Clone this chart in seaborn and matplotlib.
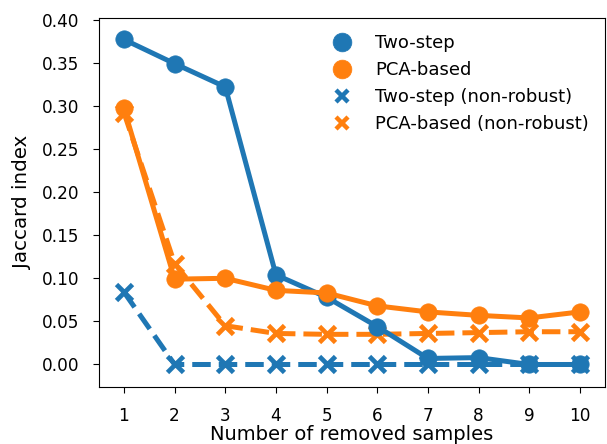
import matplotlib
matplotlib.use("Agg")
import matplotlib.pyplot as plt
from matplotlib.lines import Line2D
import seaborn as sns
import pandas as pd

n_removed = [1, 2, 3, 4, 5, 6, 7, 8, 9, 10]
two_step = [0.377, 0.349, 0.322, 0.104, 0.078, 0.044, 0.007, 0.008, 0.0, 0.0]
pca_based = [0.297, 0.099, 0.100, 0.086, 0.083, 0.068, 0.061, 0.057, 0.054, 0.061]
two_step_nr = [0.084, 0.0, 0.0, 0.0, 0.0, 0.0, 0.0, 0.0, 0.0, 0.0]
pca_based_nr = [0.292, 0.117, 0.045, 0.036, 0.035, 0.035, 0.036, 0.037, 0.038, 0.038]

labels = ["Two-step", "PCA-based", "Two-step (non-robust)", "PCA-based (non-robust)"]
series = [two_step, pca_based, two_step_nr, pca_based_nr]

BLUE = "#1f77b4"
ORANGE = "#ff7f0e"
colors = {labels[0]: BLUE, labels[1]: ORANGE, labels[2]: BLUE, labels[3]: ORANGE}
markers = {labels[0]: "o", labels[1]: "o", labels[2]: "x", labels[3]: "x"}
styles = {labels[0]: "-", labels[1]: "-", labels[2]: "--", labels[3]: "--"}

rows = []
for lab, vals in zip(labels, series):
    for n, v in zip(n_removed, vals):
        rows.append({"n": n, "value": v, "method": lab})
df = pd.DataFrame(rows)

plt.rcParams["font.family"] = ["DejaVu Sans"]
fig = plt.figure(figsize=(6.07, 4.44), dpi=100)
ax = fig.add_axes([0.1625, 0.128, 0.8345, 0.831])

order_draw = [labels[2], labels[3], labels[0], labels[1]]
sns.pointplot(data=df, x="n", y="value", hue="method", hue_order=order_draw,
              palette=[colors[l] for l in order_draw],
              markers=[markers[l] for l in order_draw],
              linestyles=[styles[l] for l in order_draw],
              errorbar=None, ax=ax, linewidth=3.6)

for ln in ax.lines:
    if ln.get_marker() == "o":
        ln.set_markersize(12.5)
        ln.set_markeredgewidth(0.5)
    elif ln.get_marker() == "x":
        ln.set_markersize(11)
        ln.set_markeredgewidth(3.4)

ax.set_ylim(-0.0263, 0.4017)
ax.set_yticks([0.0, 0.05, 0.10, 0.15, 0.20, 0.25, 0.30, 0.35, 0.40])
ax.set_yticklabels([f"{t:.2f}" for t in ax.get_yticks()])
ax.tick_params(labelsize=12.2, length=4.5, pad=9.5)
ax.set_xlabel("Number of removed samples", fontsize=14, labelpad=0.5)
ax.set_ylabel("Jaccard index", fontsize=14.3, labelpad=7)

if ax.get_legend() is not None:
    ax.get_legend().remove()
handles = [Line2D([], [], linestyle="", marker=markers[l], color=colors[l],
                  markersize=13.5 if markers[l] == "o" else 9,
                  markeredgewidth=0.5 if markers[l] == "o" else 3.2) for l in labels]
ax.legend(handles, labels, frameon=False, fontsize=13, loc="upper left",
          bbox_to_anchor=(0.4447, 0.957), borderpad=0, borderaxespad=0,
          handletextpad=0.85, labelspacing=0.5)

fig.savefig("out.png", dpi=100)
